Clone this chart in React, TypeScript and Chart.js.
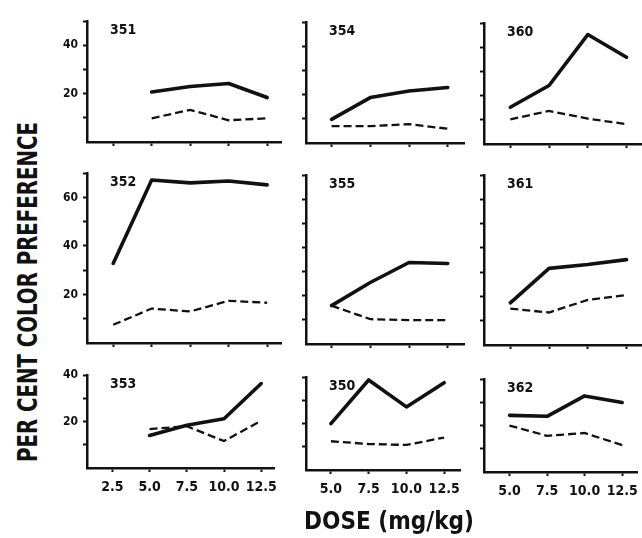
import React, { useEffect, useRef } from "react";
import { Chart, registerables } from "chart.js";
Chart.register(...registerables);

const FONT = "'Liberation Sans Narrow', 'DejaVu Sans Condensed', 'Roboto', sans-serif";
const INK = "#111";

// ---- data ----
const DOSE_TICKS_WIDE = [2.5, 5.0, 7.5, 10.0, 12.5];
const DOSE_TICKS = [5.0, 7.5, 10.0, 12.5];
const DOSES_4 = [5.0, 7.5, 10.0, 12.5];
const DOSES_5 = [2.5, 5.0, 7.5, 10.0, 12.5];

const PANEL_IDS = ["351", "354", "360", "352", "355", "361", "353", "350", "362"];

const SOLID_351 = [20.7, 23.0, 24.2, 18.4];
const DASH_351 = [9.8, 13.3, 9.0, 9.8];
const SOLID_354 = [9.8, 18.8, 21.5, 23.0];
const DASH_354 = [7.0, 7.0, 7.8, 5.9];
const SOLID_360 = [15.2, 24.2, 45.3, 35.9];
const DASH_360 = [10.2, 13.7, 10.5, 8.2];
const SOLID_352 = [32.8, 67.2, 66.0, 66.8, 65.2];
const DASH_352 = [7.5, 14.2, 13.0, 17.4, 16.6];
const SOLID_355 = [15.9, 25.5, 33.8, 33.4];
const DASH_355 = [15.9, 10.3, 9.9, 9.9];
const SOLID_361 = [17.4, 31.6, 33.2, 35.2];
const DASH_361 = [15.0, 13.4, 18.6, 20.6];
const SOLID_353 = [14.0, 18.4, 21.2, 36.4];
const DASH_353 = [16.8, 18.0, 11.6, 20.4];
const SOLID_350 = [20.0, 38.8, 27.2, 37.6];
const DASH_350 = [12.4, 11.2, 10.8, 14.0];
const SOLID_362 = [24.4, 24.0, 32.8, 30.0];
const DASH_362 = [20.0, 15.6, 16.8, 11.6];

const Y_MAX_ROWS = [50, 70, 40];
const Y_LABELS_ROWS = [[20, 40], [20, 40, 60], [20, 40]];

const Y_TITLE = "PER CENT COLOR PREFERENCE";
const X_TITLE = "DOSE (mg/kg)";

// ---- layout (pixel boxes of each plot area) ----
const COLS = [
  { left: 87, right: 281, xMin: 0.8, xMax: 13.4 },
  { left: 306, right: 464, xMin: 3.35, xMax: 13.55 },
  { left: 484, right: 642, xMin: 3.3, xMax: 13.5 },
];
const BOXES = [
  { top: 14, bottom: 142 },
  { top: 15, bottom: 143 },
  { top: 16, bottom: 144 },
  { top: 166, bottom: 343 },
  { top: 168, bottom: 344 },
  { top: 168, bottom: 345 },
  { top: 368, bottom: 468 },
  { top: 370, bottom: 470 },
  { top: 372, bottom: 472 },
];

const PANEL_DATA = [
  { doses: DOSES_4, solid: SOLID_351, dash: DASH_351 },
  { doses: DOSES_4, solid: SOLID_354, dash: DASH_354 },
  { doses: DOSES_4, solid: SOLID_360, dash: DASH_360 },
  { doses: DOSES_5, solid: SOLID_352, dash: DASH_352 },
  { doses: DOSES_4, solid: SOLID_355, dash: DASH_355 },
  { doses: DOSES_4, solid: SOLID_361, dash: DASH_361 },
  { doses: DOSES_4, solid: SOLID_353, dash: DASH_353 },
  { doses: DOSES_4, solid: SOLID_350, dash: DASH_350 },
  { doses: DOSES_4, solid: SOLID_362, dash: DASH_362 },
];

const Y_AXIS_W = 40;
const X_AXIS_H = 30;
const PAD_TOP = 5;
const PAD_RIGHT = 3;

function Panel({ index }: { index: number }) {
  const ref = useRef<HTMLCanvasElement | null>(null);
  const row = Math.floor(index / 3);
  const col = index % 3;
  const c = COLS[col];
  const b = BOXES[index];
  const w = Y_AXIS_W + (c.right - c.left) + PAD_RIGHT;
  const h = PAD_TOP + (b.bottom - b.top) + X_AXIS_H;

  useEffect(() => {
    if (!ref.current) return;
    const d = PANEL_DATA[index];
    const yMax = Y_MAX_ROWS[row];
    const yLabels = Y_LABELS_ROWS[row];
    const xTicks = col === 0 ? DOSE_TICKS_WIDE : DOSE_TICKS;
    const yTicks: number[] = [];
    for (let v = 10; v <= yMax; v += 10) yTicks.push(v);

    const labelPlugin = {
      id: "panelLabel",
      afterDraw(chart: any) {
        const ctx = chart.ctx;
        const a = chart.chartArea;
        ctx.save();
        ctx.fillStyle = INK;
        ctx.font = `bold 14px ${FONT}`;
        ctx.textBaseline = "alphabetic";
        ctx.textAlign = "left";
        ctx.fillText(PANEL_IDS[index], a.left + 23, a.top + 13);
        ctx.restore();
      },
    };

    const chart = new Chart(ref.current, {
      type: "line",
      data: {
        datasets: [
          {
            data: d.doses.map((x, i) => ({ x, y: d.solid[i] })),
            borderColor: INK,
            borderWidth: 3.6,
            pointRadius: 0,
            tension: 0,
            borderJoinStyle: "round",
            borderCapStyle: "round",
          },
          {
            data: d.doses.map((x, i) => ({ x, y: d.dash[i] })),
            borderColor: INK,
            borderWidth: 2.3,
            borderDash: [8, 4],
            pointRadius: 0,
            tension: 0,
          },
        ],
      },
      options: {
        animation: false,
        responsive: false,
        events: [],
        layout: { padding: { top: PAD_TOP, right: PAD_RIGHT, left: 0, bottom: 0 } },
        plugins: { legend: { display: false }, tooltip: { enabled: false }, title: { display: false } },
        scales: {
          x: {
            type: "linear",
            min: c.xMin,
            max: c.xMax,
            afterBuildTicks(scale: any) {
              scale.ticks = xTicks.map((v) => ({ value: v }));
            },
            afterFit(scale: any) {
              scale.height = X_AXIS_H;
            },
            ticks: {
              display: row === 2,
              color: INK,
              padding: 7,
              maxRotation: 0,
              autoSkip: false,
              font: { family: FONT, size: 14, weight: "bold" },
              callback: (v: any) => Number(v).toFixed(1),
            },
            grid: {
              drawOnChartArea: false,
              drawTicks: true,
              tickLength: 4,
              tickWidth: 2,
              tickColor: INK,
            },
            border: { display: true, color: INK, width: 2.5 },
          },
          y: {
            type: "linear",
            min: 0,
            max: yMax,
            afterBuildTicks(scale: any) {
              scale.ticks = yTicks.map((v) => ({ value: v }));
            },
            afterFit(scale: any) {
              scale.width = Y_AXIS_W;
            },
            ticks: {
              color: INK,
              padding: 5,
              autoSkip: false,
              font: { family: FONT, size: 12, weight: "bold" },
              callback: (v: any) => (col === 0 && yLabels.includes(Number(v)) ? String(v) : ""),
            },
            grid: {
              drawOnChartArea: false,
              drawTicks: true,
              tickLength: 4,
              tickWidth: 2,
              tickColor: INK,
            },
            border: { display: true, color: INK, width: 2.5 },
          },
        },
      } as any,
      plugins: [labelPlugin],
    });
    return () => chart.destroy();
  }, [index]);

  return (
    <canvas
      ref={ref}
      width={w}
      height={h}
      style={{
        position: "absolute",
        left: c.left - Y_AXIS_W,
        top: b.top - PAD_TOP,
        width: w,
        height: h,
      }}
    />
  );
}

function fitScale(text: string, px: number, target: number): number {
  const cv = document.createElement("canvas");
  const ctx = cv.getContext("2d");
  if (!ctx) return 1;
  ctx.font = `bold ${px}px ${FONT}`;
  const m = ctx.measureText(text).width;
  return m > 0 ? target / m : 1;
}

export default function App() {
  const ySize = 27;
  const xSize = 25;
  const ys = fitScale(Y_TITLE, ySize, 340);
  const xs = fitScale(X_TITLE, xSize, 170);
  const titleStyle: React.CSSProperties = {
    position: "absolute",
    fontFamily: FONT,
    fontWeight: "bold",
    lineHeight: 1,
    whiteSpace: "nowrap",
    color: INK,
  };
  return (
    <div
      style={{
        position: "fixed",
        left: 0,
        top: 0,
        width: 642,
        height: 538,
        overflow: "hidden",
        background: "#fff",
      }}
    >
      {PANEL_IDS.map((_, i) => (
        <Panel key={i} index={i} />
      ))}
      <div
        style={{
          ...titleStyle,
          fontSize: ySize,
          left: 27,
          top: 292,
          transform: `translate(-50%, -50%) rotate(-90deg) scaleX(${ys})`,
        }}
      >
        {Y_TITLE}
      </div>
      <div
        style={{
          ...titleStyle,
          fontSize: xSize,
          left: 389,
          top: 520,
          transform: `translate(-50%, -50%) scaleX(${xs})`,
        }}
      >
        {X_TITLE}
      </div>
    </div>
  );
}
